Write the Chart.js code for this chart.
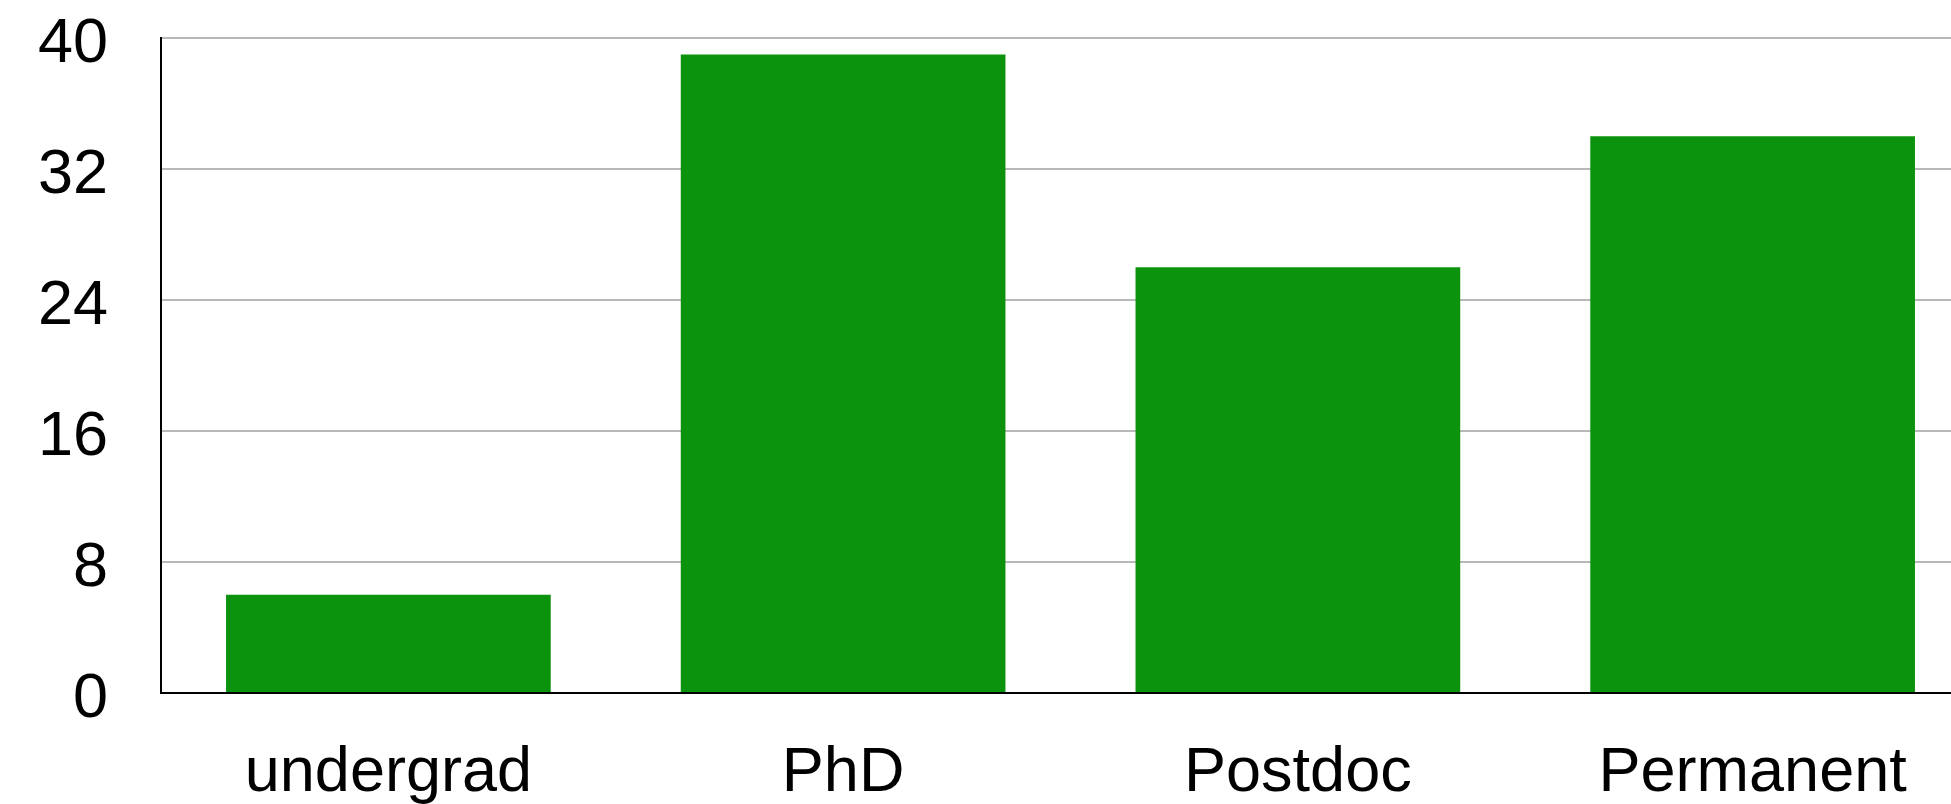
<!DOCTYPE html>
<html>
<head>
<meta charset="utf-8">
<script src="https://cdn.jsdelivr.net/npm/chart.js@4"></script>
<style>
  html, body { margin: 0; padding: 0; background: #fff; overflow: hidden; }
  #wrap { position: relative; width: 2000px; height: 804px; }
</style>
</head>
<body>
<div id="wrap"><canvas id="bar-graph"></canvas></div>
<script>
const categories = ["undergrad", "PhD", "Postdoc", "Permanent"];
const counts = [6, 39, 26, 34];
const yTicks = [0, 8, 16, 24, 32, 40];

function createBarGraph() {
  let ctx = document.getElementById("bar-graph").getContext("2d");
  Chart.defaults.color = "#000";
  Chart.defaults.font.family = "'Liberation Sans', Arial, Helvetica, sans-serif";
  Chart.defaults.font.size = 63;

  new Chart(ctx, {
    type: "bar",
    data: {
      labels: categories,
      datasets: [{
        label: "count",
        data: counts,
        backgroundColor: "#0c930d",
        borderWidth: 0,
        categoryPercentage: 1,
        barPercentage: 0.714,
      }],
    },
    options: {
      responsive: true,
      maintainAspectRatio: false,
      animation: false,
      devicePixelRatio: 1,
      layout: {
        padding: { left: 39, right: 20, top: 0, bottom: 0 }
      },
      plugins: {
        legend: { display: false },
        tooltip: { enabled: false },
      },
      scales: {
        x: {
          afterFit: (axis) => {
            axis.height = 111;
          },
          grid: { display: false, drawTicks: false },
          border: { display: true, color: "#000", width: 2 },
          ticks: { padding: 43 },
        },
        y: {
          min: 0,
          max: 40,
          afterBuildTicks: (axis) => {
            axis.ticks = yTicks.map(v => ({ value: v }));
          },
          // keep the label gap but stop it from growing the box
          afterFit: (axis) => {
            axis.width = 122;
            axis.paddingTop = 38;
            axis.paddingBottom = 0;
          },
          grid: { color: "#b8b8b8", lineWidth: 2, drawTicks: false },
          border: { display: true, color: "#000", width: 2 },
          ticks: { padding: 53, labelOffset: 7 },
        }
      }
    }
  });
}

createBarGraph();
</script>
</body>
</html>
